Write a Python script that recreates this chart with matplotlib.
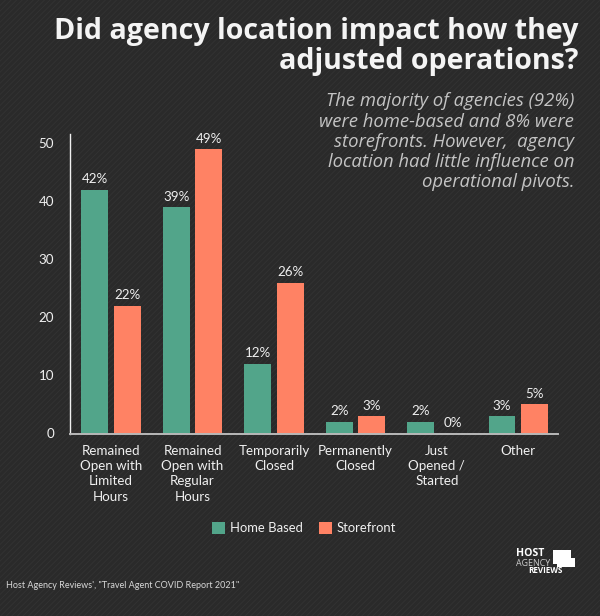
"""Agency location vs operational changes, grouped bars on dark background
"""

import numpy as np
import matplotlib
matplotlib.use('Agg')
import matplotlib.pyplot as plt
from matplotlib.patches import Rectangle

categories = ['Remained\nOpen with\nLimited\nHours', 'Remained\nOpen with\nRegular\nHours',
              'Temporarily\nClosed', 'Permanently\nClosed', 'Just\nOpened /\nStarted', 'Other']
home_based = [42, 39, 12, 2, 2, 3]
storefront = [22, 49, 26, 3, 0, 5]
y_ticks = [0, 10, 20, 30, 40, 50]

title = 'Did agency location impact how they\nadjusted operations?'
subtitle = ('The majority of agencies (92%)\nwere home-based and 8% were\n'
            'storefronts. However,  agency\nlocation had little influence on\noperational pivots.')
source = 'Host Agency Reviews\', "Travel Agent COVID Report 2021"'

W, H = 600, 616
BG = '#2a2a2a'
GREEN = '#52a58a'
ORANGE = '#ff8264'
TEXT = '#f0f0f0'

plt.rcParams['font.family'] = ['Lato', 'DejaVu Sans']
plt.rcParams['hatch.linewidth'] = 0.7

fig = plt.figure(figsize=(W / 100, H / 100), dpi=100, facecolor=BG)

# diagonal weave of the background
fig.add_artist(Rectangle((0, 0), 1, 1, transform=fig.transFigure, facecolor=BG,
                         edgecolor='#323232', hatch='//////', linewidth=0, zorder=-5))

ax = fig.add_axes([69.5 / W, 1 - 433.5 / H, 488.5 / W, 299.5 / H])
ax.patch.set_alpha(0)

x = np.arange(len(categories))
width = 0.33
off = 0.2
bars1 = ax.bar(x - off, home_based, width, color=GREEN, label='Home Based')
bars2 = ax.bar(x + off, storefront, width, color=ORANGE, label='Storefront')

for bars, vals in ((bars1, home_based), (bars2, storefront)):
    for b, v in zip(bars, vals):
        ax.annotate('%d%%' % v, (b.get_x() + b.get_width() / 2, v), xytext=(0, 3.2),
                    textcoords='offset points', ha='center', va='bottom',
                    color=TEXT, fontsize=9.6)

ax.set_xlim(-0.512, len(categories) - 0.512)
ax.set_ylim(0, 51.6)
ax.set_yticks(y_ticks)
ax.set_xticks(x)
ax.set_xticklabels(categories, linespacing=1.33)
ax.tick_params(axis='both', length=0, colors=TEXT, labelsize=9.6)
ax.tick_params(axis='y', pad=11)
ax.tick_params(axis='x', pad=8)

for side in ('top', 'right'):
    ax.spines[side].set_visible(False)
ax.spines['left'].set_color('#f0f0f0')
ax.spines['left'].set_linewidth(1)
ax.spines['bottom'].set_color('#b8b8b8')
ax.spines['bottom'].set_linewidth(1.4)

leg = fig.legend(loc='center', bbox_to_anchor=(304 / W, 1 - 528 / H), ncol=2, frameon=False,
                 fontsize=9.4, handlelength=1.0, handleheight=1.0, handletextpad=0.4,
                 columnspacing=1.2, labelcolor=TEXT)

fig.text(578 / W, 1 - 16.5 / H, title, ha='right', va='top', color='#f4f4f4',
         fontsize=20.6, fontweight='bold', family=['Open Sans', 'DejaVu Sans'], linespacing=1.08)
fig.text(574 / W, 1 - 92.5 / H, subtitle, ha='right', va='top', color='#c4c4c4',
         fontsize=13.3, style='italic', family=['Open Sans', 'DejaVu Sans'], linespacing=1.16)
fig.text(6 / W, 1 - 585 / H, source, ha='left', va='center', color='#d8d8d8', fontsize=6.5)

# logo, top right of the footer
fig.text(516 / W, 1 - 556 / H, 'HOST', ha='left', va='baseline', color='white', fontsize=7.6,
         fontweight='bold', family=['Open Sans', 'DejaVu Sans'])
fig.text(516 / W, 1 - 565.5 / H, 'AGENCY', ha='left', va='baseline', color='#cccccc', fontsize=6.4,
         family=['Open Sans', 'DejaVu Sans'])
fig.text(528 / W, 1 - 573 / H, 'REVIEWS', ha='left', va='baseline', color='white', fontsize=5.8,
         fontweight='bold', family=['Open Sans', 'DejaVu Sans'])
for (px, py, pw, ph) in ((553, 550, 18, 14), (557, 558, 18, 9)):
    fig.add_artist(Rectangle((px / W, 1 - (py + ph) / H), pw / W, ph / H,
                             transform=fig.transFigure, facecolor='white', edgecolor='none'))

fig.savefig('out.png', dpi=100, facecolor=BG)
